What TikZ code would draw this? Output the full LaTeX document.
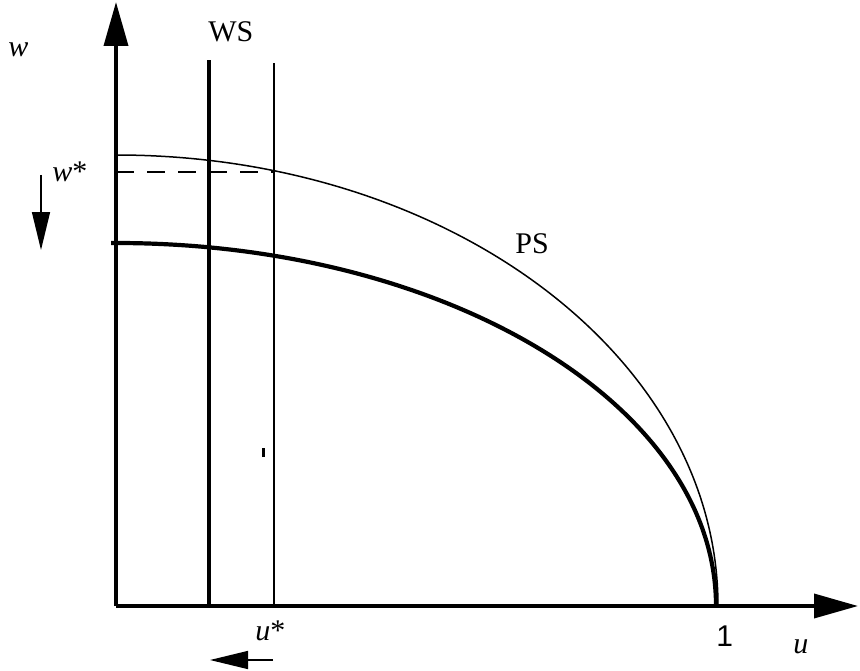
\documentclass[tikz,border=0pt]{standalone}
\usepackage{fontspec}
\setmainfont{Liberation Serif}
\newfontfamily\arialone{Liberation Sans}
\usetikzlibrary{arrows.meta}

\begin{document}
\begin{tikzpicture}[x=0.5pt,y=0.5pt,
  every node/.style={font=\fontsize{15}{18}\selectfont,inner sep=0pt,anchor=base west},
  axis/.style={line width=1.8pt,-{Triangle[length=22pt,width=12pt]}},
  shiftarrow/.style={line width=0.75pt,-{Triangle[length=19pt,width=9pt]}},
  thickline/.style={line width=2.1pt},
  thinline/.style={line width=0.75pt}]
\useasboundingbox (-116,-64) rectangle (744,606);
% axes
\coordinate (O) at (0,0);
\coordinate (uend) at (742,0);
\coordinate (wend) at (0,604);
\draw[axis] (O) -- (uend);
\draw[axis] (O) -- (wend);
% welfare lines
\coordinate (wsbot) at (93,0);
\coordinate (wstop) at (93,546);
\coordinate (ustarbot) at (158,0);
\coordinate (ustartop) at (158,543);
\draw[thickline] (wsbot) -- (wstop);
\draw[thinline] (ustarbot) -- (ustartop);
% possibility curves
\draw[thinline] (0,451) arc[start angle=90,end angle=0,x radius=602,y radius=451];
\draw[thickline] (-5,363) -- (0,363) arc[start angle=90,end angle=0,x radius=600,y radius=363];
% optimum
\coordinate (wstar) at (0,434);
\coordinate (optimum) at (158,434);
\draw[thinline,dash pattern=on 9pt off 6.5pt] (wstar) -- (optimum);
\draw[line width=1.5pt] (147,149) -- (147,158);
% shifts
\coordinate (wdowna) at (-75,431);
\coordinate (wdownb) at (-75,356);
\coordinate (uleftpa) at (157,-54);
\coordinate (uleftpb) at (94,-54);
\draw[shiftarrow] (wdowna) -- (wdownb);
\draw[shiftarrow] (uleftpa) -- (uleftpb);
% labels
\node (wlab) at (-108,549) {\itshape w};
\node (wstarlab) at (-64,424) {\itshape w\upshape*};
\node (wslab) at (92,564) {WS};
\node (pslab) at (399,353) {PS};
\node (ustarlab) at (139,-34) {\itshape u\upshape*};
\node (onelab) at (600,-40) {\arialone 1};
\node (ulab) at (677,-47) {\itshape u};
\end{tikzpicture}
\end{document}
